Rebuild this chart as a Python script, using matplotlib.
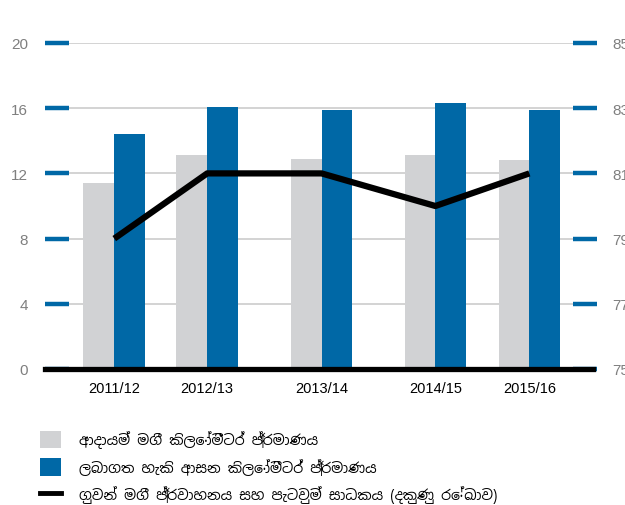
import matplotlib
matplotlib.use("Agg")
import matplotlib.pyplot as plt
from matplotlib.lines import Line2D
from matplotlib.patches import Patch

# data
years = ["2011/12", "2012/13", "2013/14", "2014/15", "2015/16"]
rpk = [11.4, 13.1, 12.9, 13.1, 12.8]          # revenue passenger km (left)
ask = [14.4, 16.1, 15.9, 16.3, 15.9]          # available seat km (left)
load_factor = [79.0, 81.0, 81.0, 80.0, 81.0]  # passenger load factor (right)

left_ticks = [0, 4, 8, 12, 16, 20]
right_ticks = [75, 77, 79, 81, 83, 85]

labels = [
    "ආදායම් මගී කිලෝමීටර් ප්‍රමාණය",
    "ලබාගත හැකි ආසන කිලෝමීටර් ප්‍රමාණය",
    "ගුවන් මගී ප්‍රවාහනය සහ පැටවුම් සාධකය (දකුණු රේඛාව)",
]

# group centres are not evenly spaced in the original layout
xpos = [1.26, 2.95, 5.03, 7.10, 8.81]
bw = 0.56

GREY = "#d1d2d4"
BLUE = "#0068a6"
SIN = ["Noto Sans Sinhala", "DejaVu Sans"]

fig = plt.figure(figsize=(6.25, 5.06), dpi=100)
ax = fig.add_axes([45 / 625, 1 - 370 / 506, 552 / 625, 326 / 506])
ax2 = ax.twinx()

ax.bar([x - bw / 2 for x in xpos], rpk, width=bw, color=GREY, zorder=2)
ax.bar([x + bw / 2 for x in xpos], ask, width=bw, color=BLUE, zorder=2)

ax.set_xlim(0, 10.04)
ax.set_ylim(0, 20)
ax.set_yticks(left_ticks)
ax.set_xticks(xpos)
ax.set_xticklabels(years, fontsize=10.5, family="Liberation Sans")
ax.tick_params(axis="x", length=0, pad=9)
ax.tick_params(axis="y", direction="in", length=17, width=3.2, color=BLUE,
               labelcolor="#7f7f7f", labelsize=11, pad=12)
for lab in ax.get_yticklabels():
    lab.set_family("Liberation Sans")
ax.grid(axis="y", color="#cccccc", linewidth=1.2, zorder=0)
for s in ax.spines.values():
    s.set_visible(False)

ax2.plot(xpos, load_factor, color="black", linewidth=4.5, zorder=5,
         solid_capstyle="butt")
ax2.set_ylim(75, 85)
ax2.set_yticks(right_ticks)
ax2.tick_params(axis="y", direction="in", length=17, width=3.2, color=BLUE,
                labelcolor="#7f7f7f", labelsize=11, pad=11)
for lab in ax2.get_yticklabels():
    lab.set_family("Liberation Sans")
for s in ax2.spines.values():
    s.set_visible(False)

ax2.axhline(75, xmin=0, xmax=0.993, color="black", linewidth=3.8, zorder=6,
            clip_on=False)

handles = [
    Patch(facecolor=GREY, edgecolor="none"),
    Patch(facecolor=BLUE, edgecolor="none"),
    Line2D([0], [0], color="black", linewidth=3.5),
]
leg = fig.legend(handles, labels, loc="upper left",
                 bbox_to_anchor=(34 / 625, 1 - 426 / 506),
                 frameon=False, prop={"family": SIN, "size": 10.2},
                 handlelength=1.5, handleheight=1.5, handletextpad=1.3,
                 labelspacing=0.7, borderaxespad=0)

fig.savefig("out.png", dpi=100)
